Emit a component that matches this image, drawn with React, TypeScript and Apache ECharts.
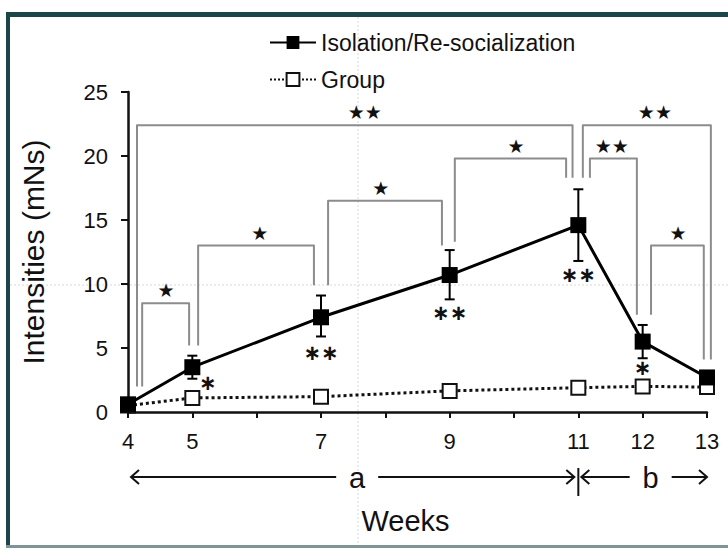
import React, { useEffect, useRef } from "react";
import * as echarts from "echarts";

const weeks = [4, 5, 7, 9, 11, 12, 13];
const isolation = [0.6, 3.5, 7.4, 10.7, 14.6, 5.5, 2.7];
const isolationLow = [0.4, 2.6, 5.9, 8.8, 11.8, 4.2, 2.4];
const isolationHigh = [0.8, 4.4, 9.1, 12.65, 17.4, 6.8, 3.0];
const group = [0.5, 1.1, 1.2, 1.65, 1.9, 2.0, 1.95];
const labelledWeeks = [4, 5, 7, 9, 11, 12, 13];

// [fromWeek, toWeek, topValue, fromEndValue, toEndValue, markWeek, mark]
const brackets: [number, number, number, number, number, number, string][] = [
  [4.14, 10.91, 22.4, 2.0, 18.3, 7.68, "★★"],
  [4.22, 4.95, 8.5, 2.0, 5.2, 4.59, "★"],
  [5.09, 6.89, 13.0, 5.2, 9.9, 6.05, "★"],
  [7.11, 8.88, 16.5, 9.9, 13.0, 7.93, "★"],
  [9.08, 10.81, 19.8, 13.3, 18.3, 10.03, "★"],
  [11.18, 11.91, 19.8, 18.3, 7.6, 11.52, "★★"],
  [12.13, 12.95, 13.0, 7.6, 4.1, 12.55, "★"],
  [11.07, 13.06, 22.4, 18.3, 4.1, 12.19, "★★"],
];

// significance vs group: [week, value, mark]
const pointMarks: [number, number, string][] = [
  [5.24, 2.3, "∗"],
  [7.0, 4.6, "∗∗"],
  [9.0, 7.7, "∗∗"],
  [11.0, 10.7, "∗∗"],
  [12.0, 3.4, "∗"],
];

// periods: [startWeek, endWeek, label]
const periods: [number, number, string][] = [
  [4, 11, "a"],
  [11, 13, "b"],
];

const FONT = "'Liberation Sans', Arial, sans-serif";

export default function App() {
  const ref = useRef<HTMLDivElement>(null);
  useEffect(() => {
    if (!ref.current) return;
    const chart = echarts.init(ref.current, null, { renderer: "svg" });
    chart.setOption({
      animation: false,
      backgroundColor: "#ffffff",
      textStyle: { fontFamily: FONT },
      grid: { left: 128, right: 21, top: 92, bottom: 136 },
      legend: {
        orient: "vertical",
        left: 264,
        top: 24,
        itemWidth: 46,
        itemHeight: 16,
        itemGap: 10,
        textStyle: { fontSize: 23, color: "#111", fontFamily: FONT, lineHeight: 27 },
        data: ["Isolation/Re-socialization", "Group"],
      },
      xAxis: {
        type: "value",
        min: 4,
        max: 13,
        interval: 1,
        name: "Weeks",
        nameLocation: "middle",
        nameGap: 94,
        nameTextStyle: { fontSize: 29, color: "#111", padding: [0, 24, 0, 0] },
        axisLine: { lineStyle: { color: "#111", width: 2.5 } },
        axisTick: { length: 6, lineStyle: { color: "#111", width: 2 } },
        axisLabel: {
          fontSize: 22,
          color: "#111",
          margin: 18,
          formatter: (v: number) => (labelledWeeks.includes(v) ? String(v) : ""),
        },
        splitLine: { show: false },
      },
      yAxis: {
        type: "value",
        min: 0,
        max: 25,
        interval: 5,
        name: "Intensities (mNs)",
        nameLocation: "middle",
        nameGap: 80,
        nameTextStyle: { fontSize: 30, color: "#111" },
        axisLine: { show: true, lineStyle: { color: "#111", width: 2.5 } },
        axisTick: { show: true, length: 7, lineStyle: { color: "#111", width: 2 } },
        axisLabel: { fontSize: 22, color: "#111", margin: 20 },
        splitLine: { show: false },
      },
      graphic: [
        { type: "line", shape: { x1: 358, y1: 17, x2: 358, y2: 546 }, style: { stroke: "#d8d8d8", lineWidth: 1, lineDash: [2, 2] }, z: -10, silent: true },
        { type: "line", shape: { x1: 10, y1: 285, x2: 728, y2: 285 }, style: { stroke: "#d8d8d8", lineWidth: 1, lineDash: [2, 2] }, z: -10, silent: true },
        { type: "rect", shape: { x: 6, y: 12, width: 722, height: 5 }, style: { fill: "#1b4548" }, silent: true },
        { type: "rect", shape: { x: 6, y: 12, width: 4, height: 536 }, style: { fill: "#1b4548" }, silent: true },
        { type: "rect", shape: { x: 6, y: 545, width: 722, height: 3 }, style: { fill: "#7f9595" }, silent: true },
      ],
      series: [
        {
          name: "Group",
          type: "line",
          data: weeks.map((w, i) => [w, group[i]]),
          symbol: "rect",
          symbolSize: 14,
          itemStyle: { color: "#ffffff", borderColor: "#111", borderWidth: 2 },
          lineStyle: { color: "#111", width: 3, type: "dotted" },
          z: 3,
        },
        {
          name: "Isolation/Re-socialization",
          type: "line",
          data: weeks.map((w, i) => [w, isolation[i]]),
          symbol: "rect",
          symbolSize: 16,
          itemStyle: { color: "#000" },
          lineStyle: { color: "#000", width: 3 },
          z: 5,
        },
        {
          type: "custom",
          name: "errors",
          z: 4,
          data: weeks.map((w, i) => [w, isolationLow[i], isolationHigh[i]]),
          renderItem: (params: any, api: any) => {
            const lo = api.coord([api.value(0), api.value(1)]);
            const hi = api.coord([api.value(0), api.value(2)]);
            const cap = 5;
            const st = { stroke: "#000", lineWidth: 2 };
            return {
              type: "group",
              children: [
                { type: "line", shape: { x1: lo[0], y1: lo[1], x2: hi[0], y2: hi[1] }, style: st },
                { type: "line", shape: { x1: lo[0] - cap, y1: lo[1], x2: lo[0] + cap, y2: lo[1] }, style: st },
                { type: "line", shape: { x1: hi[0] - cap, y1: hi[1], x2: hi[0] + cap, y2: hi[1] }, style: st },
              ],
            };
          },
        },
        {
          type: "custom",
          name: "brackets",
          z: 2,
          data: brackets.map((b) => [b[0], b[1], b[2], b[3], b[4], b[5]]),
          renderItem: (params: any, api: any) => {
            const b = brackets[params.dataIndex];
            const p1 = api.coord([b[0], b[3]]);
            const p2 = api.coord([b[0], b[2]]);
            const p3 = api.coord([b[1], b[2]]);
            const p4 = api.coord([b[1], b[4]]);
            const m = api.coord([b[5], b[2]]);
            return {
              type: "group",
              children: [
                {
                  type: "polyline",
                  shape: { points: [p1, p2, p3, p4] },
                  style: { stroke: "#8c8c8c", lineWidth: 2, fill: "none", lineJoin: "round" },
                },
                {
                  type: "text",
                  x: m[0],
                  y: m[1] - 13,
                  style: {
                    text: b[6],
                    fontSize: 19,
                    fontFamily: "'DejaVu Sans', sans-serif",
                    fill: "#111",
                    align: "center",
                    verticalAlign: "middle",
                  },
                },
              ],
            };
          },
        },
        {
          type: "custom",
          name: "pointMarks",
          z: 6,
          data: pointMarks.map((p) => [p[0], p[1]]),
          renderItem: (params: any, api: any) => {
            const p = pointMarks[params.dataIndex];
            const c = api.coord([p[0], p[1]]);
            return {
              type: "text",
              x: c[0],
              y: c[1],
              style: {
                text: p[2],
                fontSize: 21,
                fontWeight: "bold",
                fontFamily: "'DejaVu Sans', sans-serif",
                fill: "#111",
                align: "center",
                verticalAlign: "middle",
              },
            };
          },
        },
        {
          type: "custom",
          name: "periods",
          z: 6,
          clip: false,
          data: periods.map((p) => [p[0], p[1]]),
          renderItem: (params: any, api: any) => {
            const p = periods[params.dataIndex];
            const s = api.coord([p[0], 0]);
            const e = api.coord([p[1], 0]);
            const y = s[1] + 65;
            const mid = (s[0] + e[0]) / 2 + (params.dataIndex === 0 ? 4 : 8);
            const gap = 21;
            const st = { stroke: "#111", lineWidth: 2, fill: "none" };
            const x0 = s[0] + 3;
            const x1 = e[0] - (params.dataIndex === 0 ? 4 : 0);
            const h = 7;
            const children: any[] = [
              { type: "line", shape: { x1: x0, y1: y, x2: mid - gap, y2: y }, style: st },
              { type: "polyline", shape: { points: [[x0 + h + 1, y - h], [x0, y], [x0 + h + 1, y + h]] }, style: st },
              { type: "line", shape: { x1: mid + gap, y1: y, x2: x1, y2: y }, style: st },
              { type: "polyline", shape: { points: [[x1 - h - 1, y - h], [x1, y], [x1 - h - 1, y + h]] }, style: st },
              {
                type: "text",
                x: mid,
                y: y + 1,
                style: { text: p[2], fontSize: 29, fontFamily: FONT, fill: "#111", align: "center", verticalAlign: "middle" },
              },
            ];
            if (params.dataIndex === 0) {
              children.push({ type: "line", shape: { x1: e[0], y1: y - 9, x2: e[0], y2: y + 19 }, style: st });
            }
            return { type: "group", children };
          },
        },
      ],
    });
    return () => chart.dispose();
  }, []);
  return (
    <div
      ref={ref}
      style={{ position: "absolute", left: 0, top: 0, width: 728, height: 548 }}
    />
  );
}
